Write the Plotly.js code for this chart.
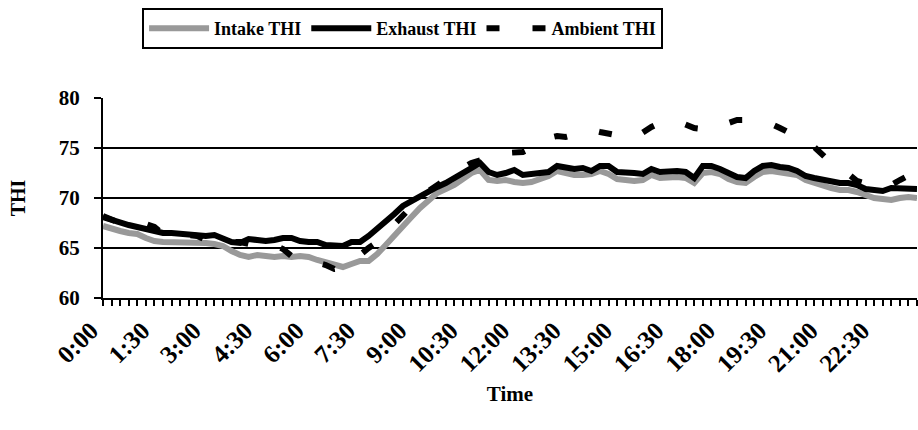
<!DOCTYPE html>
<html>
<head>
<meta charset="utf-8">
<script src="https://cdn.plot.ly/plotly-3.0.1.min.js"></script>
<style>
  html, body { margin: 0; padding: 0; background: #ffffff; }
  #chart { width: 918px; height: 430px; }
</style>
</head>
<body>
<div id="chart"></div>
<script>
// Categories: 15-minute time stamps over one day
var times = [
  "0:00","0:15","0:30","0:45","1:00","1:15","1:30","1:45","2:00","2:15","2:30","2:45",
  "3:00","3:15","3:30","3:45","4:00","4:15","4:30","4:45","5:00","5:15","5:30","5:45",
  "6:00","6:15","6:30","6:45","7:00","7:15","7:30","7:45","8:00","8:15","8:30","8:45",
  "9:00","9:15","9:30","9:45","10:00","10:15","10:30","10:45","11:00","11:15","11:30","11:45",
  "12:00","12:15","12:30","12:45","13:00","13:15","13:30","13:45","14:00","14:15","14:30","14:45",
  "15:00","15:15","15:30","15:45","16:00","16:15","16:30","16:45","17:00","17:15","17:30","17:45",
  "18:00","18:15","18:30","18:45","19:00","19:15","19:30","19:45","20:00","20:15","20:30","20:45",
  "21:00","21:15","21:30","21:45","22:00","22:15","22:30","22:45","23:00","23:15","23:30","23:45"
];

// Labelled ticks (every 1:30)
var labelTimes = ["0:00","1:30","3:00","4:30","6:00","7:30","9:00","10:30","12:00","13:30",
                  "15:00","16:30","18:00","19:30","21:00","22:30"];

var intakeTHI = [
  67.2,66.9,66.7,66.5,66.4,66.0,65.7,65.6,65.6,65.5,65.5,65.5,
  65.5,65.4,65.2,64.7,64.3,64.1,64.3,64.2,64.1,64.2,64.1,64.2,
  64.1,63.8,63.6,63.3,63.1,63.4,63.7,63.7,64.4,65.3,66.3,67.2,
  68.1,69.0,69.8,70.5,70.9,71.3,71.9,72.5,72.8,71.8,71.7,71.8,
  71.6,71.5,71.6,71.9,72.2,72.7,72.5,72.3,72.3,72.4,72.7,72.4,
  71.9,71.8,71.7,71.8,72.3,72.0,72.1,72.1,72.0,71.5,72.5,72.6,
  72.4,71.9,71.6,71.5,72.1,72.6,72.7,72.6,72.5,72.3,71.8,71.5,
  71.2,71.0,70.8,70.8,70.6,70.3,70.0,69.9,69.8,70.0,70.1,70.0
];

var exhaustTHI = [
  68.1,67.8,67.5,67.3,67.1,66.9,66.7,66.5,66.5,66.4,66.4,66.3,
  66.2,66.3,65.9,65.6,65.5,65.9,65.8,65.7,65.8,66.0,66.0,65.7,
  65.6,65.6,65.3,65.2,65.2,65.6,65.6,66.2,66.9,67.6,68.4,69.2,
  69.7,70.1,70.7,71.1,71.5,72.0,72.6,73.1,73.5,72.6,72.3,72.5,
  72.8,72.3,72.4,72.6,72.6,73.2,73.0,72.9,73.0,72.7,73.2,73.2,
  72.6,72.6,72.5,72.4,72.9,72.6,72.7,72.7,72.6,72.0,73.2,73.2,
  72.9,72.5,72.1,72.0,72.7,73.2,73.3,73.1,73.0,72.7,72.2,72.0,
  71.8,71.6,71.5,71.5,71.3,70.9,70.8,70.7,71.0,71.0,70.9,70.9
];

var ambientTHI = [
  68.2,67.8,67.5,67.4,67.4,67.4,67.1,66.4,66.4,66.4,66.3,66.2,
  65.8,65.7,65.6,65.6,65.6,65.4,65.4,65.3,65.3,64.9,64.2,64.0,
  63.8,63.6,63.3,62.9,63.0,63.6,64.4,65.0,65.6,66.5,67.5,68.4,
  69.2,70.0,70.7,71.3,71.9,72.4,73.0,73.5,73.8,74.0,74.3,74.5,
  74.6,74.6,75.0,75.5,76.0,76.2,76.1,76.3,76.6,76.8,76.6,76.4,
  76.2,76.1,76.0,76.6,77.1,77.5,77.7,77.7,77.4,77.0,76.9,77.0,
  77.1,77.5,77.8,77.8,77.7,77.6,77.4,77.0,76.6,76.2,75.7,75.1,
  74.2,73.5,72.8,72.4,71.7,71.4,71.2,71.2,71.3,71.8,72.3,72.7
];

var fontFam = '"Liberation Serif", "Times New Roman", serif';

// Tick every category, labels every 1:30
var tickText = times.map(function (t) { return labelTimes.indexOf(t) >= 0 ? t : ''; });

var traces = [
  {
    x: times, y: intakeTHI, name: 'Intake THI', type: 'scatter', mode: 'lines',
    line: { color: '#999999', width: 6 }
  },
  {
    x: times, y: exhaustTHI, name: 'Exhaust THI', type: 'scatter', mode: 'lines',
    line: { color: '#000000', width: 6 }
  },
  {
    x: times, y: ambientTHI, name: 'Ambient THI', type: 'scatter', mode: 'lines',
    line: { color: '#000000', width: 6, dash: '13px,33px' }
  }
];

var layout = {
  width: 918, height: 430,
  margin: { l: 103, r: 1, t: 98, b: 132, pad: 0 },
  paper_bgcolor: '#ffffff', plot_bgcolor: '#ffffff',
  font: { family: fontFam, size: 20, color: '#000000', weight: 'bold' },
  showlegend: true,
  legend: {
    orientation: 'h', x: 0.048, xanchor: 'left', y: 1.45, yanchor: 'top',
    bordercolor: '#000000', borderwidth: 2, bgcolor: '#ffffff',
    font: { family: fontFam, size: 18, color: '#000000', weight: 'bold' },
    itemwidth: 60, tracegroupgap: 0
  },
  xaxis: {
    type: 'category',
    range: [0, times.length - 1],
    tickmode: 'array', tickvals: times, ticktext: tickText,
    tickangle: -45,
    ticks: 'outside', ticklen: 6, tickwidth: 2, tickcolor: '#000000',
    ticklabelstandoff: 0, ticklabelshift: -12,
    showline: true, linecolor: '#000000', linewidth: 2,
    showgrid: false, zeroline: false,
    tickfont: { family: fontFam, size: 25, color: '#000000', weight: 'bold' },
    title: { text: 'Time', font: { family: fontFam, size: 21, color: '#000000', weight: 'bold' }, standoff: 10 }
  },
  yaxis: {
    range: [60, 80], dtick: 5, tick0: 60,
    ticks: 'outside', ticklen: 7, tickwidth: 2, tickcolor: '#000000',
    ticklabelstandoff: 10,
    showline: true, linecolor: '#000000', linewidth: 2,
    showgrid: true, gridcolor: '#000000', gridwidth: 2,
    zeroline: false,
    tickfont: { family: fontFam, size: 21, color: '#000000', weight: 'bold' },
    title: { text: 'THI', font: { family: fontFam, size: 20, color: '#000000', weight: 'bold' }, standoff: 28 }
  }
};

Plotly.newPlot('chart', traces, layout, { displayModeBar: false, staticPlot: true });
</script>
</body>
</html>
